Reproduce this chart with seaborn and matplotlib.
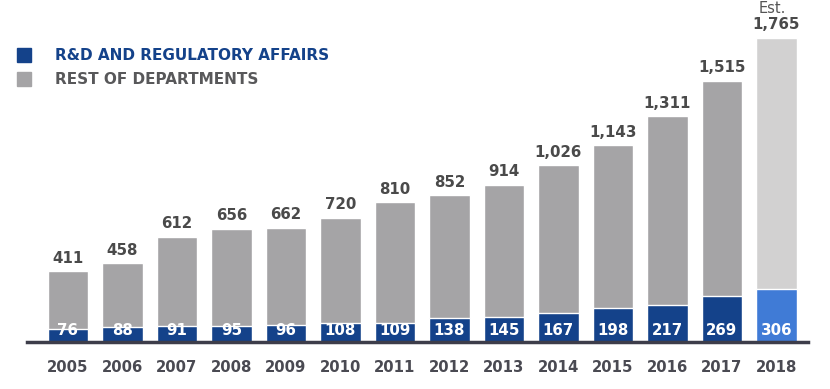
import matplotlib
matplotlib.use("Agg")
import matplotlib.pyplot as plt
import pandas as pd
import seaborn as sns

years = ['2005', '2006', '2007', '2008', '2009', '2010', '2011',
         '2012', '2013', '2014', '2015', '2016', '2017', '2018']
totals = [411, 458, 612, 656, 662, 720, 810, 852, 914, 1026, 1143, 1311, 1515, 1765]
rd = [76, 88, 91, 95, 96, 108, 109, 138, 145, 167, 198, 217, 269, 306]

df = pd.DataFrame({'year': years, 'total': totals, 'rd': rd})

# colores: el ultimo año (estimado) va mas claro
gray = ['#a5a4a6'] * 13 + ['#d2d1d1']
blue = ['#14428a'] * 13 + ['#407bd6']

sns.set_style('white')
plt.rcParams['font.family'] = ['DejaVu Sans']

fig = plt.figure(figsize=(8.3, 3.89), dpi=100)
ax = fig.add_axes([27 / 830, 47 / 389, 781 / 830, 342 / 389])

sns.barplot(data=df, x='year', y='total', hue='year', palette=gray,
            legend=False, width=0.74, saturation=1, ax=ax)
sns.barplot(data=df, x='year', y='rd', hue='year', palette=blue,
            legend=False, width=0.74, saturation=1, ax=ax)

ax.set_xlim(-0.75, 13.58)
ax.set_ylim(0, 1985)
ax.set_xlabel('')
ax.set_ylabel('')
ax.set_yticks([])
for s in ['top', 'right', 'left']:
    ax.spines[s].set_visible(False)
ax.spines['bottom'].set_color('#3d3d4a')
ax.spines['bottom'].set_linewidth(2.5)
ax.tick_params(axis='x', length=0, pad=13, labelsize=10.7, labelcolor='#4a4a52')
for t in ax.get_xticklabels():
    t.set_fontweight('bold')

for i, (tot, r) in enumerate(zip(totals, rd)):
    ax.annotate(f'{tot:,}', xy=(i, tot), xytext=(0, 4), textcoords='offset points',
                ha='center', va='bottom', fontsize=10.8, fontweight='bold', color='#4a4a4a')
    ax.annotate(f'{r}', xy=(i, 0), xytext=(0, 3), textcoords='offset points',
                ha='center', va='bottom', fontsize=10.8, fontweight='bold', color='white')

ax.annotate('Est.', xy=(13, totals[-1]), xytext=(-3, 21), textcoords='offset points',
            ha='center', va='center', fontsize=10.5, color='#555555')

# leyenda manual
fig.patches.append(plt.Rectangle((17 / 830, 1 - 62 / 389), 14 / 830, 14 / 389,
                                 transform=fig.transFigure, color='#14428a'))
fig.patches.append(plt.Rectangle((17 / 830, 1 - 86 / 389), 14 / 830, 14 / 389,
                                 transform=fig.transFigure, color='#a5a4a6'))
fig.text(55 / 830, 1 - 55 / 389, 'R&D AND REGULATORY AFFAIRS', fontsize=11,
         fontweight='bold', color='#14428a', va='center')
fig.text(55 / 830, 1 - 79 / 389, 'REST OF DEPARTMENTS', fontsize=11,
         fontweight='bold', color='#58585a', va='center')

fig.savefig('out.png', dpi=100)
